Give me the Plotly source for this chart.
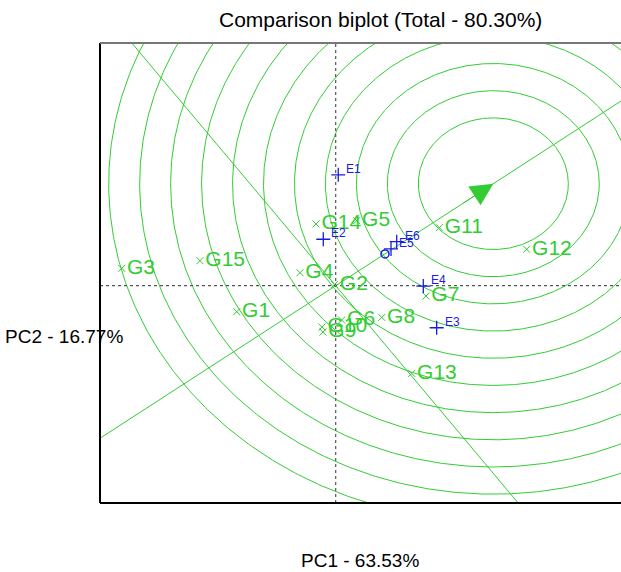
import numpy as np
import plotly.graph_objects as go

# Genotype scores (PC1, PC2)
gen_names = ["G1", "G2", "G3", "G4", "G5", "G6", "G7", "G8", "G9", "G10",
             "G11", "G12", "G13", "G14", "G15"]
gen_pc1 = [-1.65, -0.02, -3.567, -0.595, 0.35, 0.10, 1.505, 0.767, -0.212, -0.228,
           1.727, 3.183, 1.267, -0.328, -2.262]
gen_pc2 = [-0.494, 0.023, 0.331, 0.247, 1.236, -0.652, -0.196, -0.601, -0.880, -0.785,
           1.103, 0.692, -1.665, 1.173, 0.475]

# Environment scores (PC1, PC2)
env_names = ["E1", "E2", "E3", "E4", "E5", "E6"]
env_pc1 = [0.043, -0.207, 1.683, 1.46, 0.922, 1.017]
env_pc2 = [2.105, 0.882, -0.798, -0.006, 0.698, 0.837]

# Average environment and ideal genotype
mean_env = [0.822, 0.603]
ideal = [2.627, 1.937]
ring_radii = [1.25 + 0.516 * k for k in range(11)]

title_text = "Comparison biplot (Total - 80.30%)"
xlabel = "PC1 - 63.53%"
ylabel = "PC2 - 16.77%"

GREEN = "#33CC33"
BLUE = "#1A1AE6"
FONT = "Liberation Sans, Arial, sans-serif"

xr = [-3.928, 4.755]
yr = [-4.125, 4.608]

fig = go.Figure()

# Concentric circles around ideal genotype
th = np.linspace(0, 2 * np.pi, 721)
for r in ring_radii:
    fig.add_trace(go.Scatter(x=ideal[0] + r * np.cos(th), y=ideal[1] + r * np.sin(th),
                             mode="lines", line=dict(color=GREEN, width=1),
                             hoverinfo="skip", showlegend=False))

# Average environment axis and its perpendicular through origin
t = np.array([-20.0, 20.0])
fig.add_trace(go.Scatter(x=t * ideal[0], y=t * ideal[1], mode="lines",
                         line=dict(color=GREEN, width=1), showlegend=False, hoverinfo="skip"))
fig.add_trace(go.Scatter(x=-t * ideal[1], y=t * ideal[0], mode="lines",
                         line=dict(color=GREEN, width=1), showlegend=False, hoverinfo="skip"))

# Axis lines through origin
fig.add_trace(go.Scatter(x=[xr[0], xr[1]], y=[0, 0], mode="lines",
                         line=dict(color="#555555", width=1.2, dash="dot"), showlegend=False))
fig.add_trace(go.Scatter(x=[0, 0], y=[yr[0], yr[1]], mode="lines",
                         line=dict(color="#555555", width=1.2, dash="dot"), showlegend=False))

# Genotypes
fig.add_trace(go.Scatter(x=gen_pc1, y=gen_pc2, mode="markers+text", text=gen_names,
                         textposition="middle right",
                         textfont=dict(color=GREEN, size=21, family=FONT),
                         marker=dict(symbol="x-thin", size=7, line=dict(color=GREEN, width=1)),
                         showlegend=False))

# Environments
fig.add_trace(go.Scatter(x=env_pc1, y=env_pc2, mode="markers",
                         marker=dict(symbol="cross-thin", size=10, line=dict(color=BLUE, width=1.3)),
                         showlegend=False))
for name, ex, ey in zip(env_names, env_pc1, env_pc2):
    fig.add_annotation(x=ex, y=ey, xref="x", yref="y", text=name, showarrow=False,
                       xanchor="left", yanchor="middle", xshift=6, yshift=6,
                       font=dict(color=BLUE, size=12, family=FONT))

# Average environment marker
fig.add_trace(go.Scatter(x=[mean_env[0]], y=[mean_env[1]], mode="markers",
                         marker=dict(symbol="circle-open", size=8, color=BLUE, line=dict(width=1.5)),
                         showlegend=False))

# Arrow head at ideal genotype
fig.add_annotation(x=ideal[0], y=ideal[1], ax=ideal[0] * 0.8, ay=ideal[1] * 0.8,
                   xref="x", yref="y", axref="x", ayref="y", text="",
                   showarrow=True, arrowhead=2, arrowsize=4.5, arrowwidth=1,
                   arrowcolor=GREEN)

# Texts
fig.add_annotation(x=0.539, y=1.051, xref="paper", yref="paper", text=title_text,
                   showarrow=False, font=dict(size=21, color="black", family=FONT),
                   xanchor="center", yanchor="middle")
fig.add_annotation(x=0.499, y=-0.126, xref="paper", yref="paper", text=xlabel,
                   showarrow=False, font=dict(size=19, color="black", family=FONT),
                   xanchor="center", yanchor="middle")
fig.add_annotation(x=0.048, y=0.361, xref="paper", yref="paper", text=ylabel,
                   showarrow=False, font=dict(size=19, color="black", family=FONT),
                   xanchor="right", yanchor="middle")

# Frame: left, bottom black; top gray
fig.add_shape(type="line", xref="paper", yref="paper", x0=0, x1=0, y0=0, y1=1,
              line=dict(color="black", width=2))
fig.add_shape(type="line", xref="paper", yref="paper", x0=0, x1=1, y0=0, y1=0,
              line=dict(color="black", width=2))
fig.add_shape(type="line", xref="paper", yref="paper", x0=0, x1=1, y0=1, y1=1,
              line=dict(color="#777777", width=2))

fig.update_xaxes(range=xr, showgrid=False, zeroline=False, showticklabels=False,
                 ticks="", showline=False)
fig.update_yaxes(range=yr, showgrid=False, zeroline=False, showticklabels=False,
                 ticks="", showline=False)
fig.update_layout(width=621, height=572, margin=dict(l=100, r=0, t=43, b=69, pad=0),
                  plot_bgcolor="white", paper_bgcolor="white", showlegend=False)

fig.write_html("out.html", config={"displayModeBar": False},
               post_script="document.body.style.margin='0';"
                           "document.body.style.overflow='hidden';"
                           "document.documentElement.style.overflow='hidden';")
